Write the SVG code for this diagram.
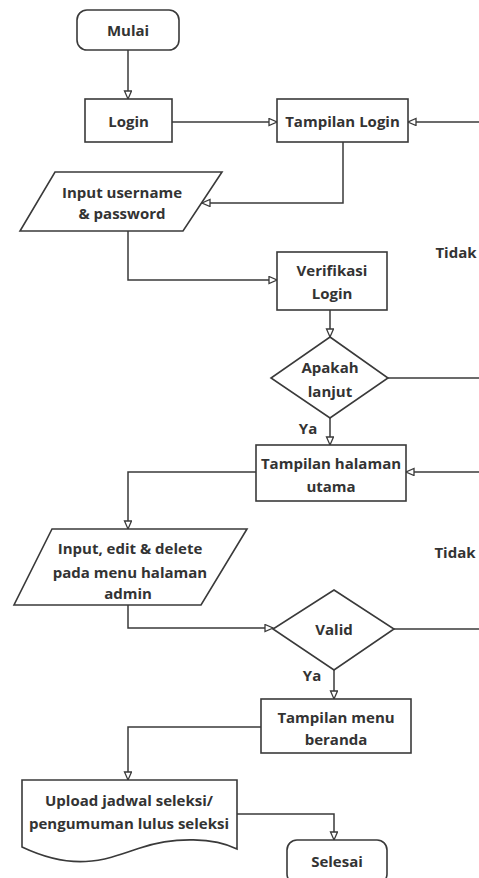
<svg xmlns="http://www.w3.org/2000/svg" width="479" height="878" viewBox="0 0 479 878">
<style>
.s{fill:#fff;stroke:#3a3a3a;stroke-width:1.6}
.c{fill:none;stroke:#3a3a3a;stroke-width:1.5;marker-end:url(#ah)}
.n{fill:none;stroke:#3a3a3a;stroke-width:1.5}
text{font-family:"Open Sans","Liberation Sans",sans-serif;font-weight:700;font-size:15px;fill:#333;text-anchor:middle;dominant-baseline:central}
</style>
<defs>
<marker id="ah" markerUnits="userSpaceOnUse" markerWidth="12" markerHeight="10" refX="9" refY="4" orient="auto">
<path d="M1,0.5 L9,4 L1,7.5 Z" fill="#fff" stroke="#3a3a3a" stroke-width="1.3"/>
</marker>
</defs>
<rect width="479" height="878" fill="#fff"/>
<g id="connectors">
<path class="c" d="M128,50 V99"/>
<path class="c" d="M172,122 H277"/>
<path class="c" d="M479,122 H408"/>
<path class="c" d="M343,142 V203 H202"/>
<path class="c" d="M128,231 V280 H277"/>
<path class="c" d="M330,310 V337"/>
<path class="n" d="M388,378 H479"/>
<path class="c" d="M330,418 V445"/>
<path class="c" d="M479,472 H406"/>
<path class="c" d="M256,472 H128 V529"/>
<path class="c" d="M128,605 V628 H273"/>
<path class="n" d="M394,629 H479"/>
<path class="c" d="M334,670 V699"/>
<path class="c" d="M261,727 H128 V780"/>
<path class="c" d="M237,814 H334 V840"/>
</g>
<g id="labels">
<text x="456" y="252">Tidak</text>
<text x="308" y="428">Ya</text>
<text x="455" y="552">Tidak</text>
<text x="312" y="675">Ya</text>
</g>
<g id="mulai"><rect class="s" x="77" y="10" width="102" height="40" rx="10"/><text x="128" y="30">Mulai</text></g>
<g id="login"><rect class="s" x="85" y="99" width="87" height="43"/><text x="128.5" y="121">Login</text></g>
<g id="tampilan-login"><rect class="s" x="277" y="99" width="131" height="43"/><text x="342.5" y="121">Tampilan Login</text></g>
<g id="input-username"><polygon class="s" points="55,172 222,172 183,231 20,231"/><text x="122" y="192">Input username</text><text x="122" y="213">&amp; password</text></g>
<g id="verifikasi"><rect class="s" x="277" y="252" width="110" height="58"/><text x="332" y="270">Verifikasi</text><text x="332" y="293">Login</text></g>
<g id="apakah-lanjut"><polygon class="s" points="330,337 388,378 330,418 271,378"/><text x="330" y="367">Apakah</text><text x="330" y="391">lanjut</text></g>
<g id="halaman-utama"><rect class="s" x="256" y="445" width="150" height="56"/><text x="331" y="463">Tampilan halaman</text><text x="331" y="486">utama</text></g>
<g id="input-edit"><polygon class="s" points="52,529 247,529 201,605 14,605"/><text x="130" y="548">Input, edit &amp; delete</text><text x="130" y="572">pada menu halaman</text><text x="128" y="593">admin</text></g>
<g id="valid"><polygon class="s" points="334,590 394,629 334,670 273,629"/><text x="334" y="629">Valid</text></g>
<g id="menu-beranda"><rect class="s" x="261" y="699" width="150" height="54"/><text x="336" y="717">Tampilan menu</text><text x="336" y="739">beranda</text></g>
<g id="upload"><path class="s" d="M22,780 H237 V849 C215,838 175,836 140,848 C105,860 75,872 22,847 Z"/><text x="129" y="800">Upload jadwal seleksi/</text><text x="129" y="823">pengumuman lulus seleksi</text></g>
<g id="selesai"><rect class="s" x="287" y="840" width="100" height="44" rx="10"/><text x="337" y="861">Selesai</text></g>
</svg>
